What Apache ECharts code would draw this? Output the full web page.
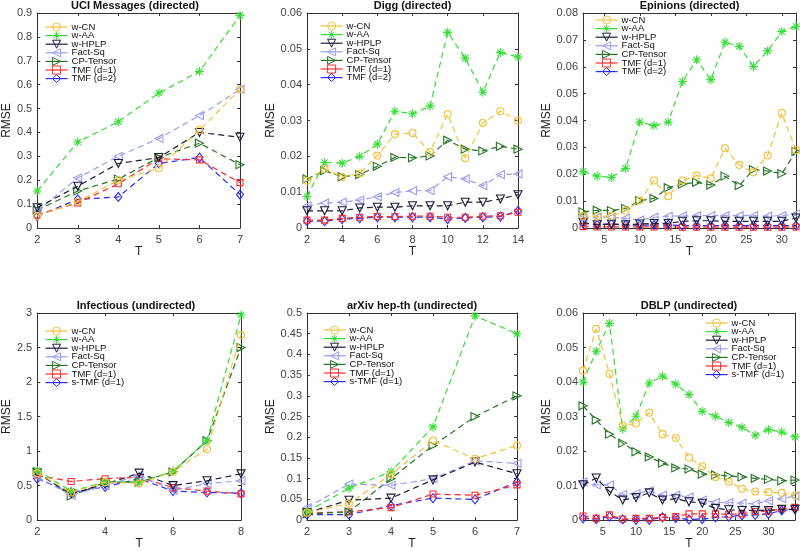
<!DOCTYPE html>
<html><head><meta charset="utf-8">
<script src="https://cdn.jsdelivr.net/npm/echarts@6/dist/echarts.min.js"></script>
<style>html,body{margin:0;padding:0;background:#fff}#c{width:800px;height:551px}</style>
</head><body><div id="c"></div>
<script>
// ---------- DATA ----------
const methodsA = ['w-CN','w-AA','w-HPLP','Fact-Sq','CP-Tensor','TMF (d=1)','TMF (d=2)'];
const methodsB = ['w-CN','w-AA','w-HPLP','Fact-Sq','CP-Tensor','TMF (d=1)','s-TMF (d=1)'];

// UCI Messages (directed)
const uciT = [2,3,4,5,6,7];
const uciCN   = [0.05,0.11,0.20,0.25,0.41,0.58];
const uciAA   = [0.155,0.36,0.445,0.565,0.655,0.89];
const uciHPLP = [0.085,0.175,0.27,0.295,0.40,0.38];
const uciFact = [0.07,0.21,0.30,0.375,0.47,0.58];
const uciCP   = [0.075,0.155,0.205,0.295,0.355,0.265];
const uciTMF1 = [0.055,0.105,0.185,0.29,0.285,0.19];
const uciTMF2 = [0.05,0.12,0.13,0.27,0.295,0.14];

// Digg (directed)
const diggT = [2,3,4,5,6,7,8,9,10,11,12,13,14];
const diggCN   = [0.0132,0.0165,0.0142,0.0153,0.0202,0.0262,0.0265,0.0212,0.0318,0.0195,0.0293,0.0326,0.0300];
const diggAA   = [0.0088,0.0183,0.0181,0.0200,0.0234,0.0326,0.0319,0.0340,0.0546,0.0474,0.0379,0.0490,0.0477];
const diggHPLP = [0.0048,0.0048,0.0048,0.0056,0.0058,0.0058,0.0062,0.0062,0.0062,0.0072,0.0072,0.0081,0.0093];
const diggFact = [0.0062,0.0070,0.0072,0.0078,0.0087,0.0099,0.0104,0.0104,0.0143,0.0137,0.0118,0.0149,0.0151];
const diggCP   = [0.0137,0.0160,0.0143,0.0149,0.0172,0.0197,0.0196,0.0201,0.0245,0.0220,0.0215,0.0228,0.0220];
const diggTMF1 = [0.0022,0.0022,0.0027,0.0030,0.0032,0.0032,0.0033,0.0033,0.0030,0.0030,0.0033,0.0034,0.0044];
const diggTMF2 = [0.0019,0.0019,0.0025,0.0027,0.0030,0.0030,0.0030,0.0030,0.0025,0.0028,0.0030,0.0032,0.0048];

// Epinions (directed)
const epiT = [2,4,6,8,10,12,14,16,18,20,22,24,26,28,30,32];
const epiCN   = [0.0045,0.0042,0.0045,0.0064,0.0102,0.0177,0.0118,0.0177,0.0195,0.0185,0.0297,0.0235,0.0207,0.0270,0.0428,0.0290];
const epiAA   = [0.0210,0.0193,0.0188,0.0222,0.0394,0.0381,0.0394,0.0545,0.0626,0.0552,0.0691,0.0676,0.0601,0.0659,0.0731,0.0750];
const epiHPLP = [0.0020,0.0012,0.0015,0.0012,0.0015,0.0017,0.0017,0.0025,0.0027,0.0027,0.0025,0.0025,0.0025,0.0025,0.0025,0.0037];
const epiFact = [0.0038,0.0040,0.0040,0.0036,0.0030,0.0040,0.0044,0.0045,0.0046,0.0046,0.0046,0.0046,0.0046,0.0044,0.0046,0.0053];
const epiCP   = [0.0060,0.0066,0.0065,0.0073,0.0102,0.0110,0.0150,0.0163,0.0170,0.0160,0.0193,0.0158,0.0217,0.0212,0.0202,0.0285];
const epiTMF1 = [0.0005,0.0004,0.0004,0.0004,0.0004,0.0004,0.0004,0.0003,0.0003,0.0003,0.0003,0.0003,0.0003,0.0003,0.0003,0.0004];
const epiTMF2 = [0.0017,0.0012,0.0015,0.0011,0.0011,0.0011,0.0012,0.0009,0.0009,0.0009,0.0009,0.0009,0.0009,0.0009,0.0009,0.0009];

// Infectious (undirected)
const infT = [2,3,4,5,6,7,8];
const infCN   = [0.68,0.40,0.55,0.53,0.70,1.03,2.68];
const infAA   = [0.72,0.42,0.55,0.55,0.71,1.15,2.97];
const infHPLP = [0.68,0.38,0.52,0.68,0.50,0.57,0.67];
const infFact = [0.63,0.36,0.50,0.65,0.43,0.53,0.57];
const infCP   = [0.70,0.35,0.55,0.55,0.70,1.15,2.50];
const infTMF1 = [0.65,0.56,0.60,0.62,0.47,0.42,0.38];
const infSTMF = [0.60,0.40,0.48,0.60,0.42,0.40,0.39];

// arXiv hep-th (undirected)
const arxT = [2,3,4,5,6,7];
const arxCN   = [0.018,0.040,0.110,0.192,0.148,0.180];
const arxAA   = [0.020,0.077,0.117,0.225,0.493,0.450];
const arxHPLP = [0.018,0.048,0.053,0.097,0.140,0.112];
const arxFact = [0.030,0.087,0.084,0.100,0.143,0.137];
const arxCP   = [0.015,0.020,0.100,0.180,0.250,0.300];
const arxTMF1 = [0.017,0.020,0.030,0.063,0.060,0.085];
const arxSTMF = [0.013,0.013,0.035,0.053,0.050,0.092];

// DBLP (undirected)
const dblpT = [2,4,6,8,10,12,14,16,18,20,22,24,26,28,30,32,34];
const dblpCN   = [0.0433,0.0554,0.0424,0.0274,0.0280,0.0311,0.0249,0.0238,0.0181,0.0156,0.0125,0.0111,0.0091,0.0083,0.0081,0.0079,0.0071];
const dblpAA   = [0.0400,0.0489,0.0570,0.0264,0.0301,0.0397,0.0417,0.0394,0.0364,0.0315,0.0301,0.0283,0.0269,0.0246,0.0262,0.0255,0.0241];
const dblpHPLP = [0.0102,0.0122,0.0083,0.0058,0.0065,0.0079,0.0058,0.0062,0.0053,0.0049,0.0034,0.0030,0.0028,0.0028,0.0028,0.0031,0.0031];
const dblpFact = [0.0111,0.0102,0.0102,0.0074,0.0077,0.0085,0.0072,0.0072,0.0067,0.0058,0.0051,0.0051,0.0049,0.0047,0.0056,0.0062,0.0070];
const dblpCP   = [0.0331,0.0290,0.0249,0.0223,0.0198,0.0183,0.0165,0.0151,0.0148,0.0133,0.0131,0.0128,0.0125,0.0121,0.0118,0.0114,0.0116];
const dblpTMF1 = [0.0012,0.0005,0.0015,0.0003,0.0005,0.0005,0.0008,0.0010,0.0018,0.0018,0.0018,0.0017,0.0018,0.0025,0.0026,0.0033,0.0037];
const dblpSTMF = [0.0005,0.0003,0.0010,0.0002,0.0001,0.0001,0.0008,0.0006,0.0002,0.0003,0.0008,0.0010,0.0014,0.0015,0.0018,0.0028,0.0032];

// Titles and axis ticks
const titles = ['UCI Messages (directed)','Digg (directed)','Epinions (directed)','Infectious (undirected)','arXiv hep-th (undirected)','DBLP (undirected)'];
const xTicksEpi = [5,10,15,20,25,30];
const xTicksDblp = [5,10,15,20,25,30];

// ---------- STYLE ----------
const asterisk = 'path://M5,0L5,10M0,5L10,5M1.5,1.5L8.5,8.5M1.5,8.5L8.5,1.5';
const styleMap = {
  'w-CN':        {color:'#F3C13A', symbol:'circle', size:7, rot:0},
  'w-AA':        {color:'#35DF35', symbol:asterisk, size:9, rot:0},
  'w-HPLP':      {color:'#1c1c3c', symbol:'triangle', size:8, rot:180},
  'Fact-Sq':     {color:'#9b9df2', symbol:'triangle', size:8, rot:90},
  'CP-Tensor':   {color:'#247524', symbol:'triangle', size:8, rot:-90},
  'TMF (d=1)':   {color:'#ff2b2b', symbol:'rect', size:6, rot:0},
  'TMF (d=2)':   {color:'#2b2bff', symbol:'diamond', size:[7,9], rot:0},
  's-TMF (d=1)': {color:'#2b2bff', symbol:'diamond', size:[7,9], rot:0}
};

const panels = [
  {T:uciT, names:methodsA, vals:[uciCN,uciAA,uciHPLP,uciFact,uciCP,uciTMF1,uciTMF2],
   grid:{left:30,top:13,width:210,height:215}, x:{min:2,max:7,interval:1}, y:{min:0,max:0.9,interval:0.1},
   legend:{left:45,top:22}, yGap:21},
  {T:diggT, names:methodsA, vals:[diggCN,diggAA,diggHPLP,diggFact,diggCP,diggTMF1,diggTMF2],
   grid:{left:307,top:13,width:211,height:215}, x:{min:2,max:14,interval:2}, y:{min:0,max:0.06,interval:0.01},
   legend:{left:320,top:21}, yGap:30},
  {T:epiT, names:methodsA, vals:[epiCN,epiAA,epiHPLP,epiFact,epiCP,epiTMF1,epiTMF2],
   grid:{left:583,top:13,width:213,height:215}, x:{min:2,max:32,custom:xTicksEpi}, y:{min:0,max:0.08,interval:0.01},
   legend:{left:595,top:15}, yGap:30},
  {T:infT, names:methodsB, vals:[infCN,infAA,infHPLP,infFact,infCP,infTMF1,infSTMF],
   grid:{left:31,top:313,width:210,height:215}, x:{min:2,max:8,interval:2}, y:{min:0,max:3,interval:0.5},
   legend:{left:45,top:326}, yGap:20},
  {T:arxT, names:methodsB, vals:[arxCN,arxAA,arxHPLP,arxFact,arxCP,arxTMF1,arxSTMF],
   grid:{left:307,top:313,width:210,height:215}, x:{min:2,max:7,interval:1}, y:{min:0,max:0.5,interval:0.05},
   legend:{left:323,top:325}, yGap:28},
  {T:dblpT, names:methodsB, vals:[dblpCN,dblpAA,dblpHPLP,dblpFact,dblpCP,dblpTMF1,dblpSTMF],
   grid:{left:583,top:313,width:212,height:215}, x:{min:2,max:34,custom:xTicksDblp}, y:{min:0,max:0.06,interval:0.01},
   legend:{left:705,top:318}, yGap:30}
];

// ---------- BUILD ----------
const axisCol = '#333';
const labelCol = '#444';
const FONT = 'Liberation Sans, Arial, sans-serif';
const grids=[], xAxes=[], yAxes=[], series=[], legends=[], titleArr=[];
panels.forEach((p,i)=>{
  grids.push(Object.assign({containLabel:false}, p.grid));
  titleArr.push({text:titles[i], left:p.grid.left + p.grid.width/2, top:p.grid.top - 13, textAlign:'center', padding:0,
    textStyle:{fontSize:11, fontWeight:'bold', color:'#111', fontFamily:FONT}});
  const xBase = {gridIndex:i, type:'value', min:p.x.min, max:p.x.max, splitLine:{show:false},
    axisLine:{onZero:false, lineStyle:{color:axisCol,width:1}}};
  if (p.x.interval) xBase.interval = p.x.interval;
  const xt = {inside:true, length:3, lineStyle:{color:axisCol}};
  const xl = {color:labelCol, fontSize:11, margin:6, fontFamily:FONT};
  if (p.x.custom){ xt.customValues = p.x.custom; xl.customValues = p.x.custom; }
  xAxes.push(Object.assign({}, xBase, {position:'bottom', axisTick:xt, axisLabel:xl,
    name:'T', nameLocation:'middle', nameGap:16, nameTextStyle:{color:'#222', fontSize:12, fontFamily:FONT}}));
  xAxes.push(Object.assign({}, xBase, {position:'top', axisTick:Object.assign({},xt), axisLabel:{show:false, customValues:p.x.custom}}));
  const yBase = {gridIndex:i, type:'value', min:p.y.min, max:p.y.max, interval:p.y.interval, splitLine:{show:false},
    axisLine:{onZero:false, lineStyle:{color:axisCol,width:1}}, axisTick:{inside:true,length:3,lineStyle:{color:axisCol}}};
  yAxes.push(Object.assign({}, yBase, {position:'left',
    axisLabel:{color:labelCol, fontSize:11, margin:5, fontFamily:FONT},
    name:'RMSE', nameLocation:'middle', nameGap:p.yGap, nameRotate:90,
    nameTextStyle:{color:'#222', fontSize:12, fontFamily:FONT}}));
  yAxes.push(Object.assign({}, yBase, {position:'right', axisLabel:{show:false}}));
  p.names.forEach((nm,k)=>{
    const st = styleMap[nm];
    series.push({
      name:nm, type:'line', xAxisIndex:2*i, yAxisIndex:2*i,
      data:p.T.map((t,j)=>[t,p.vals[k][j]]),
      symbol:st.symbol, symbolSize:st.size, symbolRotate:st.rot, showAllSymbol:true,
      lineStyle:{color:st.color, width:1.2, type:[6,4]},
      itemStyle:{color:'rgba(255,255,255,0)', borderColor:st.color, borderWidth:1.1},
      z: 10-k, animation:false, clip:false
    });
  });
  legends.push({left:p.legend.left, top:p.legend.top, orient:'vertical',
    data:p.names.map(nm=>({name:nm,
      itemStyle:{color:'rgba(255,255,255,0)', borderColor:styleMap[nm].color, borderWidth:1},
      lineStyle:{color:styleMap[nm].color, type:'solid', width:1.2}})),
    itemWidth:22, itemHeight:10, itemGap:-1.4, padding:0, selectedMode:false,
    textStyle:{fontSize:9.5, color:'#111', padding:[0,0,0,-1], fontFamily:FONT}});
});

const chart = echarts.init(document.getElementById('c'), null, {renderer:'canvas'});
chart.setOption({
  backgroundColor:'#fff', animation:false,
  title:titleArr, grid:grids, xAxis:xAxes, yAxis:yAxes, legend:legends, series:series
});
</script>
</body></html>
